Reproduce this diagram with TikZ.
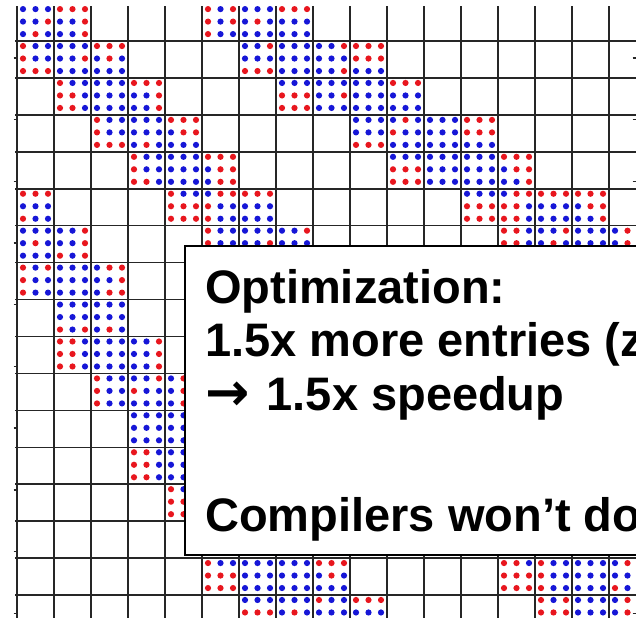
\documentclass[tikz,border=0pt]{standalone}
\usepackage{fontspec}
\setmainfont{Liberation Sans}
\newfontfamily\arrowfont{DejaVu Sans}
\definecolor{dotred}{RGB}{232,22,30}
\definecolor{dotblue}{RGB}{22,22,215}
\tikzset{
  dotR/.style={fill=dotred},
  dotB/.style={fill=dotblue},
  gridline/.style={line width=1.5pt, draw=black!85},
  tickline/.style={line width=1.2pt, draw=black!85},
  msgbox/.style={draw=black, line width=2pt, fill=white},
  msg/.style={anchor=base west, inner sep=0pt, font=\fontsize{47}{56}\selectfont\bfseries}
}
\newcommand{\mcell}[3]{%
  \foreach \clr [count=\k from 0] in {#3} {%
    \pgfmathtruncatemacro{\cx}{mod(\k,3)}%
    \pgfmathtruncatemacro{\cy}{div(\k,3)}%
    \fill[dot\clr] ({17+37*#1+6+12.5*\cx},{4.1+36.93*#2+5+12.5*\cy}) circle (3.1pt);
  }}
\begin{document}
\begin{tikzpicture}[x=1pt,y=-1pt]
\useasboundingbox (0,0) rectangle (636,618);
\fill[white] (0,0) rectangle (636,618);
\begin{scope}
\clip (0,7) rectangle (636,618);
% row 0
\mcell{0}{0}{B,B,B,B,B,R,B,R,B}
\mcell{1}{0}{R,R,R,B,B,R,B,B,R}
\mcell{5}{0}{R,B,R,R,B,R,R,B,B}
\mcell{6}{0}{B,B,B,B,R,B,B,B,B}
\mcell{7}{0}{R,R,R,B,B,B,B,B,B}
% row 1
\mcell{0}{1}{R,B,B,R,B,B,R,R,R}
\mcell{1}{1}{B,B,B,B,B,R,B,B,B}
\mcell{2}{1}{R,R,R,B,R,B,B,B,B}
\mcell{6}{1}{B,B,R,B,B,B,R,R,R}
\mcell{7}{1}{B,B,B,B,B,B,B,B,B}
\mcell{8}{1}{B,B,R,B,B,B,B,B,R}
\mcell{9}{1}{R,R,R,R,R,R,B,B,B}
% row 2
\mcell{1}{2}{R,B,B,R,R,B,R,R,B}
\mcell{2}{2}{B,B,B,B,B,B,B,B,B}
\mcell{3}{2}{R,R,R,B,B,R,B,B,R}
\mcell{7}{2}{B,B,B,R,R,R,R,R,R}
\mcell{8}{2}{B,B,B,B,B,R,B,B,B}
\mcell{9}{2}{B,B,B,B,B,B,B,B,B}
\mcell{10}{2}{R,R,R,B,B,B,B,B,B}
% row 3
\mcell{2}{3}{R,B,B,R,B,B,R,R,R}
\mcell{3}{3}{B,B,B,B,B,B,B,R,B}
\mcell{4}{3}{R,R,R,B,R,R,B,B,B}
\mcell{9}{3}{B,B,B,B,B,B,R,R,R}
\mcell{10}{3}{B,R,B,R,B,B,B,B,B}
\mcell{11}{3}{B,B,B,B,B,B,B,B,B}
\mcell{12}{3}{R,R,R,R,R,R,B,B,B}
% row 4
\mcell{3}{4}{R,B,B,R,B,B,R,R,B}
\mcell{4}{4}{B,B,B,B,B,B,B,B,B}
\mcell{5}{4}{R,R,R,B,R,R,B,R,R}
\mcell{10}{4}{B,B,B,R,R,R,R,R,R}
\mcell{11}{4}{B,B,B,B,B,B,B,B,B}
\mcell{12}{4}{B,B,B,B,B,B,B,B,B}
\mcell{13}{4}{R,R,R,B,R,R,B,B,R}
% row 5
\mcell{0}{5}{R,R,R,B,B,B,R,B,B}
\mcell{4}{5}{R,B,B,R,R,R,R,R,R}
\mcell{5}{5}{B,R,R,R,B,B,R,B,B}
\mcell{6}{5}{R,R,R,B,B,B,B,B,B}
\mcell{12}{5}{B,B,B,R,R,R,R,R,R}
\mcell{13}{5}{B,R,R,R,R,B,R,R,B}
\mcell{14}{5}{R,R,R,B,B,B,B,B,B}
\mcell{15}{5}{R,R,R,B,R,R,B,B,R}
% row 6
\mcell{0}{6}{B,B,B,B,R,B,B,B,B}
\mcell{1}{6}{B,B,R,B,B,R,R,B,R}
\mcell{5}{6}{R,B,B,R,B,B,R,B,B}
\mcell{6}{6}{B,B,B,B,B,R,B,B,B}
\mcell{7}{6}{B,B,R,B,B,B,B,B,B}
\mcell{13}{6}{R,R,B,R,R,B,R,R,B}
\mcell{14}{6}{B,B,R,B,R,B,B,B,B}
\mcell{15}{6}{B,B,B,B,B,B,B,B,B}
\mcell{16}{6}{B,R,B,B,R,B,B,B,B}
% row 7
\mcell{0}{7}{R,B,R,R,B,B,R,B,B}
\mcell{1}{7}{B,B,B,B,B,B,B,B,B}
\mcell{2}{7}{B,R,R,B,B,R,B,R,R}
% row 8
\mcell{1}{8}{B,B,B,B,B,B,R,B,R}
\mcell{2}{8}{B,B,B,B,B,B,B,R,B}
% row 9
\mcell{1}{9}{R,R,B,R,R,B,R,R,B}
\mcell{2}{9}{B,B,B,B,B,B,B,B,B}
\mcell{3}{9}{B,B,R,B,B,R,B,B,R}
% row 10
\mcell{2}{10}{R,B,B,R,B,B,R,B,B}
\mcell{3}{10}{B,B,R,R,B,B,B,B,B}
\mcell{4}{10}{B,R,B,B,R,B,B,R,B}
% row 11
\mcell{3}{11}{B,B,B,B,B,B,B,B,B}
\mcell{4}{11}{B,B,B,B,B,B,B,B,B}
% row 12
\mcell{3}{12}{R,R,B,R,R,B,R,R,B}
\mcell{4}{12}{B,B,B,B,B,B,B,B,B}
% row 13
\mcell{4}{13}{R,B,B,R,R,B,R,R,B}
% row 15
\mcell{5}{15}{R,B,B,R,R,R,R,R,R}
\mcell{6}{15}{B,B,B,B,B,B,B,B,B}
\mcell{7}{15}{B,B,B,B,B,B,B,B,B}
\mcell{8}{15}{R,R,R,B,R,B,B,B,B}
\mcell{13}{15}{R,R,B,R,R,R,R,R,R}
\mcell{14}{15}{R,B,B,R,B,B,R,B,B}
\mcell{15}{15}{B,B,B,B,B,B,B,B,B}
\mcell{16}{15}{B,R,B,B,B,B,R,B,B}
% row 16
\mcell{6}{16}{B,B,B,R,R,R,B,B,B}
\mcell{7}{16}{B,B,B,B,R,B,B,B,B}
\mcell{8}{16}{R,B,B,B,B,B,B,B,B}
\mcell{9}{16}{R,R,R,B,B,B,B,B,B}
\mcell{14}{16}{R,B,R,R,R,R,B,B,B}
\mcell{15}{16}{B,B,B,B,B,B,B,B,B}
\mcell{16}{16}{B,R,B,B,R,B,B,B,B}
% grid
\foreach \c in {0,...,16} \draw[gridline] ({17+37*\c},0) -- ({17+37*\c},618);
\foreach \r in {1,...,16} \draw[gridline] (15,{4.1+36.93*\r}) -- (636,{4.1+36.93*\r});
\foreach \t in {58,119.7,181.4,243,304.8,366.5,428,490,551.6,613.3} \draw[tickline] (13.5,\t) -- (17,\t);
\foreach \t in {58,119.7,181.4,613.3} \draw[tickline] (632.5,\t) -- (636,\t);
\end{scope}
% message box
\draw[msgbox] (185,246) rectangle (660,555);
\node[msg] (t1) at (205,303.3) {Optimization:};
\node[msg] (t2) at (205,356.5) {1.5x more entries (z};
\node[msg] (t3) at (205,410) {{\arrowfont\fontsize{53}{56}\selectfont →}\hspace{4pt} 1.5x speedup};
\node[msg] (t4) at (205,531.7) {Compilers won’t do};
\end{tikzpicture}
\end{document}
